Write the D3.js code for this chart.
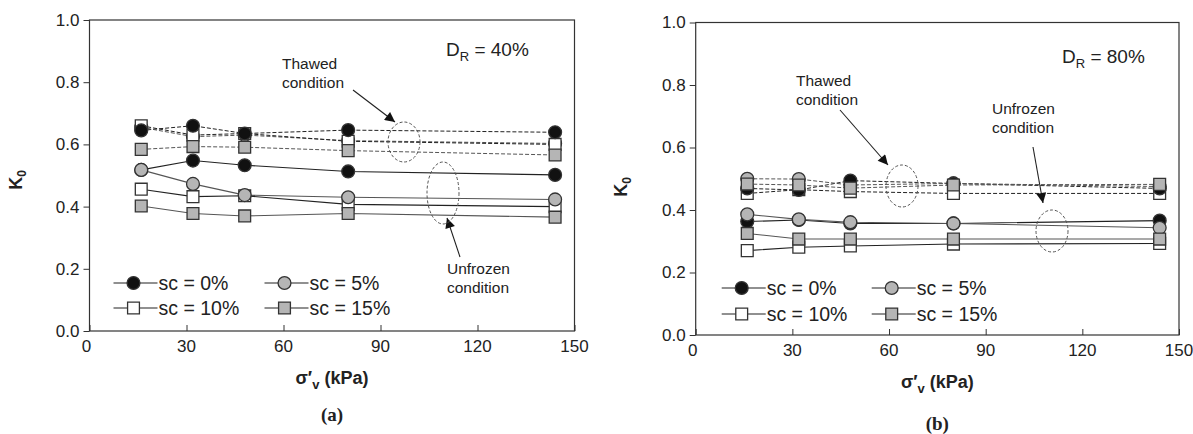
<!DOCTYPE html>
<html>
<head>
<meta charset="utf-8">
<script src="https://cdn.jsdelivr.net/npm/d3@7"></script>
<style>
  body { margin: 0; background: #fff; }
  svg text { font-family: "Liberation Sans", Arial, Helvetica, sans-serif; fill: #222; }
  svg text.cap { font-family: "Liberation Serif", "Times New Roman", serif; }
</style>
</head>
<body>
<svg id="chart" width="1193" height="434"></svg>
<script>
var stress = [16, 32, 48, 80, 144];
var xTicks = [0, 30, 60, 90, 120, 150];
var yTicks = [0, 0.2, 0.4, 0.6, 0.8, 1.0];
var seriesNames = ["sc = 0%", "sc = 5%", "sc = 10%", "sc = 15%"];

// D_R = 40%
var thawed40 = [
  [0.645, 0.66, 0.635, 0.646, 0.639],
  [0.655, 0.625, 0.63, 0.612, 0.603],
  [0.66, 0.63, 0.635, 0.61, 0.6],
  [0.584, 0.593, 0.591, 0.58, 0.566]
];
var unfrozen40 = [
  [0.518, 0.548, 0.533, 0.513, 0.502],
  [0.518, 0.473, 0.437, 0.43, 0.423],
  [0.456, 0.432, 0.435, 0.407, 0.4],
  [0.402, 0.378, 0.37, 0.378, 0.366]
];

// D_R = 80%
var thawed80 = [
  [0.469, 0.464, 0.494, 0.485, 0.469],
  [0.5, 0.499, 0.48, 0.485, 0.475],
  [0.453, 0.465, 0.459, 0.453, 0.453],
  [0.483, 0.48, 0.47, 0.48, 0.482]
];
var unfrozen80 = [
  [0.363, 0.368, 0.357, 0.357, 0.366],
  [0.386, 0.37, 0.361, 0.357, 0.343],
  [0.27, 0.281, 0.285, 0.291, 0.293],
  [0.325, 0.307, 0.307, 0.307, 0.307]
];

var markerFill = ["#111", "#b5b5b5", "#fff", "#b5b5b5"];
var markerShape = [d3.symbolCircle, d3.symbolCircle, d3.symbolSquare, d3.symbolSquare];
var lineColor = ["#222", "#555", "#222", "#555"];
// order the markers are stacked in (last on top)
var thawedOrder = [1, 2, 0, 3];
var unfrozenOrder = [2, 0, 1, 3];

var svg = d3.select("#chart");

svg.append("defs").append("marker")
  .attr("id", "arrow")
  .attr("viewBox", "0 0 10 10")
  .attr("refX", 10)
  .attr("refY", 5)
  .attr("markerWidth", 13)
  .attr("markerHeight", 10)
  .attr("markerUnits", "userSpaceOnUse")
  .attr("orient", "auto")
  .append("path")
  .attr("d", "M0,0 L10,5 L0,10 z")
  .attr("fill", "#111");

function symbolPath(i) {
  return d3.symbol().type(markerShape[i]).size(i < 2 ? 130 : 140)();
}

function drawPanel(p) {
  var x = d3.scaleLinear().domain([0, 150]).range([p.left, p.right]);
  var y = d3.scaleLinear().domain([0, 1]).range([p.bottom, p.top]);
  var g = svg.append("g");

  // frame
  g.append("rect")
    .attr("x", p.left)
    .attr("y", p.top)
    .attr("width", p.right - p.left)
    .attr("height", p.bottom - p.top)
    .attr("fill", "none")
    .attr("stroke", "#333")
    .attr("stroke-width", 1.2);

  var xAxis = g.append("g")
    .attr("transform", "translate(0," + p.bottom + ")")
    .call(d3.axisTop(x).tickValues(xTicks).tickSize(6).tickFormat(""));
  xAxis.select(".domain").remove();
  xAxis.selectAll("line").attr("stroke", "#333");

  g.selectAll(".xlab")
    .data(xTicks)
    .enter()
    .append("text")
    .attr("x", function (d) { return x(d) - (d === 0 ? 3 : 0); })
    .attr("y", p.bottom + 21)
    .attr("text-anchor", "middle")
    .style("font-size", "17px")
    .text(function (d) { return d; });

  var yAxis = g.append("g")
    .attr("transform", "translate(" + p.left + ",0)")
    .call(d3.axisLeft(y).tickValues(yTicks).tickSize(6).tickPadding(4).tickFormat(d3.format(".1f")));
  yAxis.select(".domain").remove();
  yAxis.selectAll("line").attr("stroke", "#333");
  yAxis.selectAll("text")
    .style("font-size", "17px")
    .attr("fill", "#222");
  yAxis.attr("font-family", null);

  var line = d3.line()
    .x(function (d, i) { return x(stress[i]); })
    .y(function (d) { return y(d); });

  p.thawed.forEach(function (vals, i) {
    g.append("path")
      .attr("d", line(vals))
      .attr("fill", "none")
      .attr("stroke", lineColor[i])
      .attr("stroke-width", 1)
      .attr("stroke-dasharray", "4,2");
  });
  p.unfrozen.forEach(function (vals, i) {
    g.append("path")
      .attr("d", line(vals))
      .attr("fill", "none")
      .attr("stroke", lineColor[i])
      .attr("stroke-width", 1.1);
  });

  [[p.thawed, thawedOrder], [p.unfrozen, unfrozenOrder]].forEach(function (pair) {
    var set = pair[0];
    pair[1].forEach(function (i) {
      g.selectAll(null)
        .data(set[i])
        .enter()
        .append("path")
        .attr("d", symbolPath(i))
        .attr("transform", function (d, j) {
          return "translate(" + x(stress[j]) + "," + y(d) + ")";
        })
        .attr("fill", markerFill[i])
        .attr("stroke", "#333")
        .attr("stroke-width", 1.3);
    });
  });

  // legend
  seriesNames.forEach(function (name, i) {
    var col = i % 2, row = Math.floor(i / 2);
    var lx = p.left + p.legCols[col];
    var ly = p.bottom + p.legRows[row];
    g.append("line")
      .attr("x1", lx).attr("x2", lx + 44)
      .attr("y1", ly).attr("y2", ly)
      .attr("stroke", "#222")
      .attr("stroke-width", 1.1);
    g.append("path")
      .attr("d", symbolPath(i))
      .attr("transform", "translate(" + (lx + 20) + "," + ly + ")")
      .attr("fill", markerFill[i])
      .attr("stroke", "#333")
      .attr("stroke-width", 1.3);
    g.append("text")
      .attr("x", lx + 45)
      .attr("y", ly + 7)
      .style("font-size", "19.5px")
      .text(name);
  });

  // axis titles
  var yt = g.append("text")
    .attr("transform", "translate(" + p.yTitle[0] + "," + p.yTitle[1] + ") rotate(-90)")
    .attr("text-anchor", "middle")
    .style("font-size", "18px")
    .style("font-weight", "bold");
  yt.append("tspan").text("K");
  yt.append("tspan").attr("dy", 4).style("font-size", "12px").text("0");

  var xt = g.append("text")
    .attr("x", (p.left + p.right) / 2)
    .attr("y", p.bottom + 53)
    .attr("text-anchor", "middle")
    .style("font-size", "18px")
    .style("font-weight", "bold");
  xt.append("tspan").text("σ′");
  xt.append("tspan").attr("dy", 5).style("font-size", "13px").text("v");
  xt.append("tspan").attr("dy", -5).text(" (kPa)");

  g.append("text")
    .attr("class", "cap")
    .attr("x", (p.left + p.right) / 2)
    .attr("y", p.caption)
    .attr("text-anchor", "middle")
    .style("font-size", "19px")
    .style("font-weight", "bold")
    .text(p.label);

  // D_R text
  var dr = g.append("text")
    .attr("x", p.dr[0])
    .attr("y", p.dr[1])
    .style("font-size", "19px");
  dr.append("tspan").text("D");
  dr.append("tspan").attr("dy", 5).style("font-size", "13px").text("R");
  dr.append("tspan").attr("dy", -5).text(" = " + p.drValue);

  // annotations
  p.notes.forEach(function (n) {
    var t = g.append("text")
      .attr("x", n.tx)
      .attr("y", n.ty)
      .style("font-size", "15.5px");
    t.append("tspan").attr("x", n.tx).text(n.lines[0]);
    t.append("tspan").attr("x", n.tx).attr("dy", 19).text(n.lines[1]);
    g.append("line")
      .attr("x1", n.a[0]).attr("y1", n.a[1])
      .attr("x2", n.a[2]).attr("y2", n.a[3])
      .attr("stroke", "#222")
      .attr("stroke-width", 1.1)
      .attr("marker-end", "url(#arrow)");
    g.append("ellipse")
      .attr("cx", n.e[0]).attr("cy", n.e[1])
      .attr("rx", n.e[2]).attr("ry", n.e[3])
      .attr("fill", "none")
      .attr("stroke", "#555")
      .attr("stroke-width", 1)
      .attr("stroke-dasharray", "3,2");
  });
}

drawPanel({
  left: 89.5, right: 574.5, top: 20, bottom: 331,
  thawed: thawed40, unfrozen: unfrozen40,
  legCols: [24, 175], legRows: [-48, -23],
  yTitle: [22, 180], caption: 421, label: "(a)",
  dr: [446, 56], drValue: "40%",
  notes: [
    { lines: ["Thawed", "condition"], tx: 282, ty: 69, a: [353, 90, 395, 122], e: [404, 142, 16, 20] },
    { lines: ["Unfrozen", "condition"], tx: 447, ty: 274, a: [460, 257, 447, 218], e: [443, 193, 16, 31] }
  ]
});

drawPanel({
  left: 695.7, right: 1179, top: 22.5, bottom: 335,
  thawed: thawed80, unfrozen: unfrozen80,
  legCols: [26, 176], legRows: [-47, -21],
  yTitle: [627, 187], caption: 430, label: "(b)",
  dr: [1062, 63], drValue: "80%",
  notes: [
    { lines: ["Thawed", "condition"], tx: 796, ty: 86, a: [840, 110, 888, 165], e: [902, 186, 16, 21] },
    { lines: ["Unfrozen", "condition"], tx: 992, ty: 114, a: [1033, 147, 1043, 203], e: [1052, 231, 16, 21] }
  ]
});
</script>
</body>
</html>
